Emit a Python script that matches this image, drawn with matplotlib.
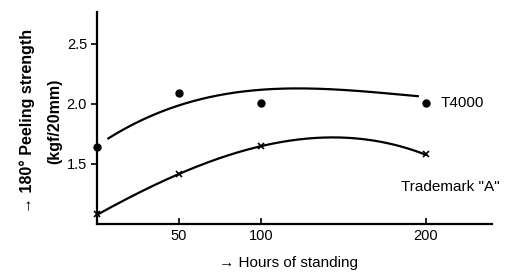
import matplotlib
matplotlib.use("Agg")
import matplotlib.pyplot as plt
import numpy as np

plt.rcParams['font.family'] = ['Liberation Sans', 'DejaVu Sans']

# measured points
hours = [0, 50, 100, 200]
t4000 = [1.64, 2.09, 2.01, 2.01]
trademark_a = [1.08, 1.42, 1.65, 1.58]

# drawn trend curves
t4000_curve_x = [7, 30, 50, 80, 100, 130, 160, 195]
t4000_curve_y = [1.71, 1.88, 2.00, 2.08, 2.11, 2.125, 2.115, 2.06]
ta_curve_x = [0, 25, 50, 75, 100, 125, 150, 175, 200]
ta_curve_y = [1.08, 1.25, 1.42, 1.55, 1.65, 1.71, 1.72, 1.67, 1.58]


def smooth(xs, ys, deg=3):
    c = np.polyfit(xs, ys, deg)
    xx = np.linspace(min(xs), max(xs), 200)
    return xx, np.polyval(c, xx)


fig = plt.figure(figsize=(5.15, 2.75), dpi=100)
ax = fig.add_axes([0.188, 0.185, 0.767, 0.77])
ax.set_xlim(0, 240)
ax.set_ylim(1.0, 2.76)

ax.plot(*smooth(t4000_curve_x, t4000_curve_y), color='black', lw=1.6)
ax.plot(*smooth(ta_curve_x, ta_curve_y), color='black', lw=1.6)
ax.plot(hours, t4000, 'o', color='black', ms=5, clip_on=False)
ax.plot(hours, trademark_a, 'x', color='black', ms=5, mew=1.2, clip_on=False)

for s in ['top', 'right']:
    ax.spines[s].set_visible(False)
for s in ['left', 'bottom']:
    ax.spines[s].set_linewidth(1.6)

ax.set_xticks([50, 100, 200])
ax.set_yticks([1.5, 2.0, 2.5])
ax.set_yticklabels(['1.5', '2.0', '2.5'])
ax.tick_params(axis='both', direction='in', length=4, width=1.2, labelsize=10.5)
ax.tick_params(axis='y', direction='out', length=4, pad=3)

ax.text(209, 2.01, 'T4000', fontsize=11, va='center', ha='left')
ax.text(185, 1.31, 'Trademark "A"', fontsize=11, va='center', ha='left')

fig.text(0.052, 0.56, '\u2192 180\u00b0 Peeling strength', rotation=90,
         fontsize=11.5, ha='center', va='center', fontweight='semibold')
fig.text(0.107, 0.56, '(kgf/20mm)', rotation=90,
         fontsize=11.5, ha='center', va='center', fontweight='semibold')
fig.text(0.56, 0.045, '\u2192 Hours of standing', fontsize=11,
         ha='center', va='center')

fig.savefig('out.png', dpi=100)
